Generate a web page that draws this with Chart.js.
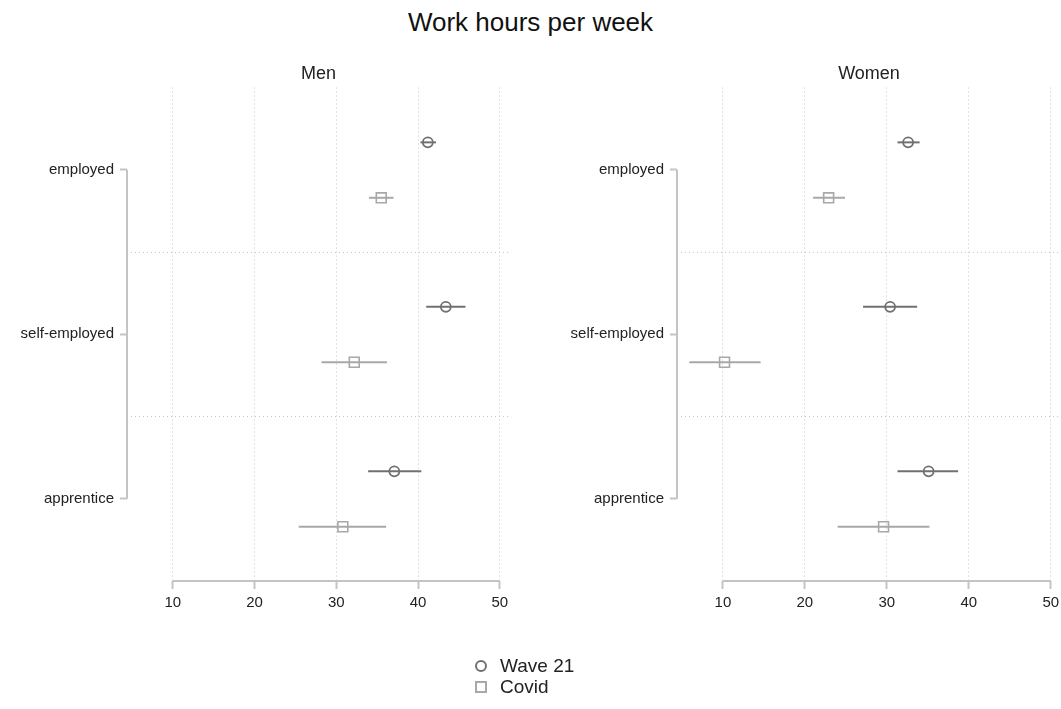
<!DOCTYPE html>
<html>
<head>
<meta charset="utf-8">
<script src="https://cdn.jsdelivr.net/npm/chart.js@4.4.1/dist/chart.umd.min.js"></script>
<style>
  body { margin: 0; background: #fff; font-family: "Liberation Sans", Arial, sans-serif; }
  #wrap { position: relative; width: 1061px; height: 709px; overflow: hidden; }
  #title { position: absolute; left: 0; width: 1061px; top: 7px; text-align: center; font-size: 26px; color: #111; }
  canvas { position: absolute; top: 0; }
  #c1 { left: 0; }
  #c2 { left: 530px; }
  .leg { position: absolute; left: 475px; font-size: 19px; color: #222; line-height: 21px; }
  .leg span.mk { display: inline-block; border: 2px solid; margin-right: 13px; vertical-align: 0px; box-sizing: content-box; }
</style>
</head>
<body>
<div id="wrap">
  <div id="title">Work hours per week</div>
  <canvas id="c1" width="530" height="709"></canvas>
  <canvas id="c2" width="551" height="709"></canvas>
  <div class="leg" style="top:655px"><span class="mk" style="border-color:#707070;border-radius:50%;width:8px;height:8px"></span>Wave 21</div>
  <div class="leg" style="top:676px"><span class="mk" style="border-color:#a8a8a8;width:8px;height:8px"></span>Covid</div>
</div>
<script>
// categories (top to bottom) and x ticks
var cats = ["employed", "self-employed", "apprentice"];
var xTicks = [10, 20, 30, 40, 50];

// Men: mean, lower, upper
var menWave = [41.2, 43.4, 37.1];
var menWaveLo = [40.3, 41.0, 33.9];
var menWaveHi = [42.2, 45.8, 40.4];
var menCovid = [35.5, 32.2, 30.8];
var menCovidLo = [34.0, 28.2, 25.4];
var menCovidHi = [37.0, 36.2, 36.1];

// Women
var womenWave = [32.6, 30.4, 35.1];
var womenWaveLo = [31.3, 27.1, 31.3];
var womenWaveHi = [34.0, 33.7, 38.7];
var womenCovid = [22.9, 10.2, 29.6];
var womenCovidLo = [21.0, 5.9, 24.0];
var womenCovidHi = [24.9, 14.6, 35.2];

var waveCol = "#707070";
var covidCol = "#a8a8a8";
var axisCol = "#c4c4c4";
var gridCol = "#c8c8c8";
var font = "'Liberation Sans', Arial, sans-serif";

function pts(vals, shift) {
  return vals.map(function(v, i) { return { x: v, y: i + 1 + shift }; });
}

// horizontal CI bars behind the markers
var errBars = {
  id: "errBars",
  beforeDatasetsDraw: function(chart) {
    var ctx = chart.ctx, xs = chart.scales.x, ys = chart.scales.y;
    chart.data.datasets.forEach(function(ds) {
      ctx.save();
      ctx.strokeStyle = ds.borderColor;
      ctx.lineWidth = 2;
      ds.data.forEach(function(p, i) {
        var y = ys.getPixelForValue(p.y);
        ctx.beginPath();
        ctx.moveTo(xs.getPixelForValue(ds.lo[i]), y);
        ctx.lineTo(xs.getPixelForValue(ds.hi[i]), y);
        ctx.stroke();
      });
      ctx.restore();
    });
  }
};

// stata-like axis lines that only run between first and last tick
var axisLines = {
  id: "axisLines",
  afterDraw: function(chart) {
    var ctx = chart.ctx, xs = chart.scales.x, ys = chart.scales.y, a = chart.chartArea;
    ctx.save();
    ctx.strokeStyle = axisCol;
    ctx.lineWidth = 2;
    ctx.beginPath();
    ctx.moveTo(a.left, ys.getPixelForValue(1));
    ctx.lineTo(a.left, ys.getPixelForValue(cats.length));
    ctx.moveTo(xs.getPixelForValue(xTicks[0]), a.bottom);
    ctx.lineTo(xs.getPixelForValue(xTicks[xTicks.length - 1]), a.bottom);
    ctx.stroke();
    ctx.restore();
  }
};

function makeChart(id, label, wave, waveLo, waveHi, covid, covidLo, covidHi, yWidth, padRight) {
  return new Chart(document.getElementById(id), {
    type: "scatter",
    data: {
      datasets: [
        { label: "Wave 21", data: pts(wave, -0.167), lo: waveLo, hi: waveHi,
          pointStyle: "circle", pointRadius: 5, borderWidth: 1.8,
          borderColor: waveCol, backgroundColor: "rgba(0,0,0,0)" },
        { label: "Covid", data: pts(covid, 0.17), lo: covidLo, hi: covidHi,
          pointStyle: "rect", pointRadius: 7, borderWidth: 1.6,
          borderColor: covidCol, backgroundColor: "rgba(0,0,0,0)" }
      ]
    },
    options: {
      responsive: false,
      animation: false,
      events: [],
      layout: { padding: { top: 0, left: 0, right: padRight, bottom: 88 } },
      plugins: {
        legend: { display: false },
        tooltip: { enabled: false },
        title: { display: true, text: label, fullSize: false, color: "#222",
          font: { family: font, size: 18, weight: "normal" }, padding: { top: 63, bottom: 3 } }
      },
      scales: {
        x: {
          type: "linear", min: 4.4, max: 51.25,
          afterBuildTicks: function(s) { s.ticks = xTicks.map(function(v) { return { value: v }; }); },
          afterFit: function(s) { s.height = 40; },
          border: { display: false, dash: [1, 3] },
          grid: { color: gridCol, lineWidth: 1, tickColor: axisCol, tickWidth: 2, tickLength: 8 },
          ticks: { color: "#222", padding: 5, font: { family: font, size: 15 } }
        },
        y: {
          type: "linear", min: 0.5, max: cats.length + 0.5, reverse: true,
          afterBuildTicks: function(s) { s.ticks = cats.map(function(c, i) { return { value: i + 1 }; }); },
          afterFit: function(s) { s.width = yWidth; },
          border: { display: false },
          grid: { drawOnChartArea: false, tickColor: axisCol, tickWidth: 2, tickLength: 7 },
          ticks: { color: "#222", padding: 6, font: { family: font, size: 15 },
            callback: function(v) { return cats[v - 1]; } }
        },
        y2: {
          type: "linear", position: "left", min: 0.5, max: cats.length + 0.5, reverse: true,
          afterBuildTicks: function(s) { s.ticks = cats.slice(1).map(function(c, i) { return { value: i + 1.5 }; }); },
          afterFit: function(s) { s.width = 0; },
          border: { display: false, dash: [1, 3] },
          grid: { color: gridCol, lineWidth: 1, drawTicks: false },
          ticks: { display: false }
        }
      }
    },
    plugins: [errBars, axisLines]
  });
}

makeChart("c1", "Men", menWave, menWaveLo, menWaveHi, menCovid, menCovidLo, menCovidHi, 127, 20);
makeChart("c2", "Women", womenWave, womenWaveLo, womenWaveHi, womenCovid, womenCovidLo, womenCovidHi, 147, 20);
</script>
</body>
</html>
